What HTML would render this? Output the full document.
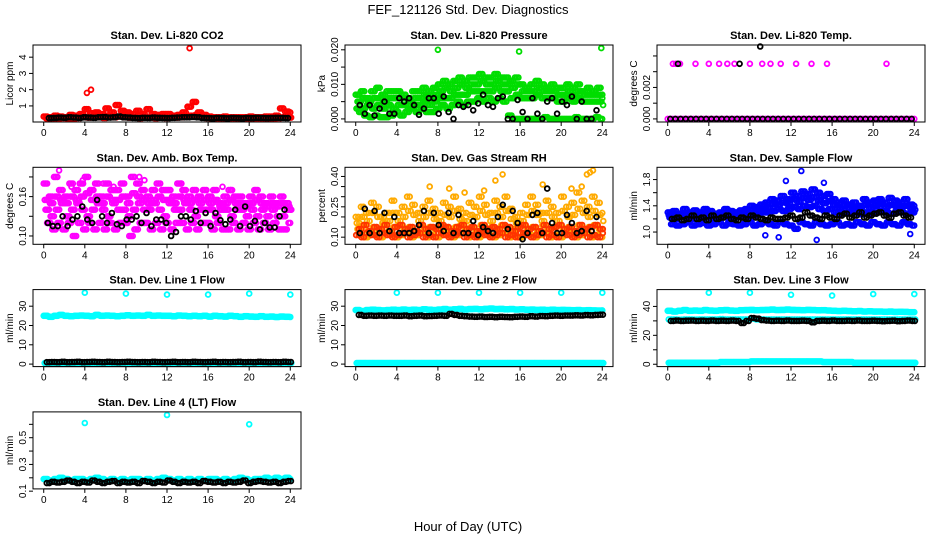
<!DOCTYPE html>
<html><head><meta charset="utf-8"><style>
body{margin:0;background:#fff}
svg{display:block;font-family:"Liberation Sans",sans-serif}
</style></head><body>
<svg id="c" width="936" height="540">
<text x="468" y="14" text-anchor="middle" font-size="13">FEF_121126  Std. Dev. Diagnostics</text>
<text x="468" y="531" text-anchor="middle" font-size="13">Hour of Day (UTC)</text>
</svg>
<script>
const xTicks=[0,4,8,12,16,20,24];
// CO2
const co2Hi=[0.35,0.3,0.4,0.35,0.3,0.45,0.4,0.5,0.8,0.55,0.6,0.5,0.85,0.6,1.05,0.7,0.6,0.5,0.7,0.5,0.8,0.5,0.45,0.5,0.5,0.4,0.45,0.6,0.95,1.25,0.6,0.45,0.35,0.3,0.3,0.35,0.3,0.3,0.3,0.3,0.35,0.3,0.3,0.35,0.35,0.4,0.85,0.65,0.6];
const co2Lo=[0.22,0.24,0.22,0.25,0.23,0.22,0.26,0.3,0.28,0.35,0.3,0.26,0.4,0.3,0.35,0.3,0.28,0.3,0.25,0.3,0.28,0.25,0.3,0.26,0.3,0.28,0.3,0.32,0.4,0.45,0.3,0.26,0.22,0.23,0.22,0.24,0.22,0.22,0.23,0.22,0.22,0.24,0.22,0.23,0.22,0.25,0.3,0.28,0.25];
const co2Blk=[0.25,0.26,0.28,0.27,0.3,0.28,0.26,0.3,0.28,0.27,0.3,0.32,0.28,0.3,0.35,0.3,0.28,0.26,0.25,0.27,0.26,0.28,0.27,0.26,0.25,0.27,0.28,0.3,0.3,0.32,0.3,0.26,0.25,0.24,0.26,0.25,0.24,0.26,0.25,0.24,0.26,0.25,0.27,0.26,0.25,0.26,0.27,0.26,0.25];
const co2OutT=[4.2,4.6,14.2], co2OutV=[1.8,2.0,4.55];
// Pressure
const prHi=[0.007,0.008,0.006,0.008,0.009,0.007,0.008,0.008,0.008,0.007,0.006,0.008,0.008,0.009,0.008,0.009,0.010,0.011,0.010,0.011,0.012,0.011,0.012,0.012,0.013,0.012,0.012,0.013,0.012,0.012,0.011,0.012,0.010,0.009,0.010,0.011,0.010,0.009,0.010,0.009,0.009,0.010,0.009,0.010,0.008,0.009,0.008,0.009,0.006];
const prMid=[0.005,0.006,0.005,0.006,0.006,0.005,0.006,0.006,0.006,0.006,0.005,0.006,0.006,0.007,0.006,0.007,0.008,0.009,0.008,0.009,0.010,0.009,0.010,0.010,0.011,0.010,0.010,0.011,0.010,0.010,0.009,0.010,0.008,0.008,0.008,0.009,0.008,0.008,0.008,0.007,0.007,0.008,0.007,0.008,0.007,0.007,0.007,0.007,0.005];
const prQ=[0.003,0.003,0.004,0.003,0.004,0.003,0.004,0.003,0.004,0.004,0.003,0.004,0.004,0.005,0.004,0.005,0.006,0.006,0.006,0.007,0.007,0.007,0.008,0.008,0.008,0.008,0.008,0.009,0.008,0.008,0.006,0.007,0.006,0.006,0.006,0.007,0.006,0.006,0.006,0.005,0.005,0.006,0.005,0.006,0.005,0.005,0.005,0.005,0.004];
const prLo=[0.002,0.001,0.0005,0.001,0.0005,0.0005,0.001,0.002,0.001,0.002,0.003,0.002,0.003,0.002,0.002,0.003,0.004,0.003,0.004,0.005,0.004,0.005,0.005,0.006,0.005,0.006,0.005,0.006,0.005,0.001,0,0,0,0,0,0,0.0005,0,0,0,0,0,0.0005,0,0,0,0.0005,0,0];
const prBlk=[0.004,0.0015,0.004,0.001,0.003,0.005,0.0015,0.0015,0.006,0.005,0.006,0.004,0.0012,0.003,0.006,0.006,0.0015,0.0065,0.002,0,0.004,0.0035,0.004,0.0025,0.0045,0.007,0.004,0.0035,0.006,0.0065,0,0,0.0055,0.002,0,0.006,0.0015,0,0.005,0.006,0.0015,0.005,0.004,0.0065,0,0.005,0,0,0.0025];
const prOutT=[8,15.9,23.9], prOutV=[0.020,0.0195,0.0205];
// Li-820 temp
const tmZero=[0,0,0,0,0,0,0,0,0,0,0,0,0,0,0,0,0,0,0,0,0,0,0,0,0,0,0,0,0,0,0,0,0,0,0,0,0,0,0,0,0,0,0,0,0,0,0,0,0];
const tmOutT=[0.5,0.8,1.2,2.7,4,5,5.8,6.5,8,9.2,10,11,12.5,14,15.5,21.3], tmOutV=[0.0035,0.0035,0.0035,0.0035,0.0035,0.0035,0.0035,0.0035,0.0035,0.0035,0.0035,0.0035,0.0035,0.0035,0.0035,0.0035];
const tmBlkT=[1,7,9], tmBlkV=[0.0035,0.0035,0.0046];
// Amb box temp
const abHi=[0.18,0.16,0.19,0.17,0.16,0.18,0.17,0.18,0.19,0.17,0.18,0.16,0.18,0.17,0.17,0.18,0.16,0.19,0.18,0.17,0.16,0.17,0.18,0.17,0.17,0.16,0.18,0.17,0.16,0.17,0.16,0.17,0.16,0.17,0.15,0.16,0.17,0.16,0.16,0.15,0.16,0.17,0.16,0.15,0.16,0.15,0.16,0.15,0.14];
const abQ=[0.155,0.15,0.16,0.155,0.15,0.16,0.155,0.16,0.165,0.155,0.16,0.15,0.16,0.155,0.155,0.16,0.15,0.165,0.16,0.155,0.15,0.155,0.16,0.155,0.155,0.15,0.16,0.155,0.15,0.155,0.15,0.155,0.15,0.155,0.145,0.15,0.155,0.15,0.15,0.145,0.15,0.155,0.15,0.145,0.15,0.145,0.15,0.145,0.14];
const abMid=[0.14,0.13,0.14,0.15,0.13,0.14,0.15,0.14,0.13,0.14,0.15,0.14,0.13,0.15,0.14,0.14,0.13,0.14,0.15,0.14,0.14,0.15,0.14,0.13,0.15,0.14,0.14,0.15,0.14,0.13,0.14,0.14,0.14,0.13,0.14,0.14,0.13,0.14,0.14,0.13,0.14,0.13,0.14,0.13,0.14,0.13,0.13,0.14,0.13];
const abLo=[0.12,0.11,0.12,0.11,0.12,0.10,0.12,0.11,0.12,0.11,0.12,0.11,0.12,0.11,0.12,0.12,0.10,0.11,0.12,0.12,0.11,0.12,0.11,0.12,0.11,0.12,0.12,0.11,0.12,0.11,0.12,0.12,0.11,0.12,0.11,0.11,0.12,0.11,0.12,0.11,0.12,0.11,0.12,0.11,0.12,0.11,0.11,0.12,0.12];
const abBlk=[0.12,0.115,0.115,0.13,0.115,0.125,0.13,0.145,0.125,0.12,0.155,0.13,0.12,0.135,0.118,0.115,0.125,0.125,0.13,0.12,0.135,0.115,0.125,0.125,0.12,0.1,0.106,0.13,0.13,0.125,0.138,0.12,0.135,0.115,0.135,0.124,0.118,0.125,0.14,0.115,0.145,0.115,0.123,0.11,0.12,0.113,0.113,0.13,0.14];
const abOutT=[1.5,3.8,5.8,6.8,9.3,9.8,2.7,13.4,17.4,18.2], abOutV=[0.2,0.185,0.18,0.175,0.19,0.185,0.175,0.18,0.175,0.17];
// Gas stream RH
const rhHi=[0.2,0.25,0.22,0.27,0.25,0.2,0.22,0.28,0.22,0.25,0.3,0.26,0.22,0.25,0.28,0.24,0.22,0.27,0.25,0.3,0.24,0.22,0.27,0.25,0.3,0.26,0.22,0.28,0.25,0.3,0.24,0.2,0.22,0.26,0.3,0.26,0.22,0.28,0.25,0.22,0.3,0.25,0.27,0.32,0.28,0.25,0.3,0.27,0.22];
const rhQ=[0.17,0.2,0.18,0.22,0.2,0.17,0.18,0.22,0.18,0.2,0.23,0.21,0.18,0.2,0.22,0.19,0.18,0.21,0.2,0.23,0.19,0.18,0.21,0.2,0.23,0.21,0.18,0.22,0.2,0.23,0.19,0.17,0.18,0.21,0.23,0.21,0.18,0.22,0.2,0.18,0.23,0.2,0.21,0.24,0.22,0.2,0.23,0.21,0.18];
const rhMid=[0.14,0.16,0.13,0.15,0.14,0.16,0.13,0.15,0.16,0.14,0.15,0.13,0.16,0.14,0.15,0.14,0.16,0.15,0.13,0.15,0.16,0.14,0.15,0.13,0.16,0.14,0.15,0.14,0.16,0.15,0.13,0.15,0.16,0.14,0.15,0.13,0.16,0.14,0.15,0.16,0.14,0.15,0.13,0.16,0.14,0.15,0.16,0.14,0.15];
const rhLo=[0.11,0.1,0.12,0.11,0.1,0.12,0.11,0.1,0.11,0.12,0.1,0.11,0.12,0.1,0.11,0.1,0.12,0.11,0.1,0.11,0.12,0.1,0.11,0.1,0.12,0.11,0.1,0.11,0.12,0.1,0.11,0.1,0.12,0.11,0.1,0.11,0.12,0.1,0.11,0.1,0.12,0.11,0.1,0.11,0.12,0.1,0.11,0.1,0.12];
const rhBlk=[0.12,0.24,0.12,0.23,0.12,0.22,0.13,0.2,0.12,0.12,0.12,0.13,0.16,0.23,0.12,0.22,0.16,0.13,0.22,0.12,0.21,0.12,0.12,0.18,0.11,0.15,0.13,0.12,0.2,0.26,0.14,0.23,0.17,0.09,0.12,0.21,0.22,0.12,0.34,0.17,0.12,0.12,0.21,0.17,0.12,0.13,0.23,0.13,0.2];
const rhOutT=[7.2,9.1,10.6,12.5,13.6,14.3,18.2,21,22,22.5,22.8,23.1], rhOutV=[0.35,0.34,0.32,0.33,0.38,0.41,0.36,0.34,0.35,0.41,0.42,0.43];
// Sample flow
const sfHi=[1.3,1.32,1.28,1.35,1.3,1.33,1.3,1.35,1.32,1.28,1.3,1.35,1.32,1.3,1.33,1.35,1.4,1.38,1.42,1.45,1.5,1.48,1.55,1.5,1.6,1.55,1.62,1.58,1.65,1.6,1.55,1.58,1.5,1.45,1.48,1.42,1.45,1.4,1.5,1.45,1.48,1.5,1.45,1.52,1.48,1.45,1.5,1.42,1.4];
const sfQ=[1.26,1.27,1.24,1.29,1.26,1.28,1.26,1.3,1.27,1.24,1.26,1.3,1.27,1.26,1.28,1.3,1.33,1.33,1.36,1.38,1.42,1.42,1.45,1.43,1.5,1.46,1.52,1.49,1.53,1.48,1.44,1.47,1.41,1.37,1.4,1.36,1.38,1.34,1.41,1.37,1.4,1.42,1.38,1.41,1.4,1.38,1.4,1.36,1.34];
const sfMid=[1.22,1.2,1.25,1.22,1.2,1.24,1.22,1.25,1.2,1.22,1.25,1.22,1.2,1.25,1.22,1.24,1.25,1.28,1.3,1.3,1.32,1.35,1.32,1.35,1.38,1.35,1.4,1.38,1.4,1.35,1.32,1.35,1.3,1.28,1.3,1.28,1.3,1.27,1.3,1.28,1.3,1.32,1.3,1.28,1.32,1.3,1.28,1.3,1.26];
const sfLo=[1.12,1.1,1.12,1.15,1.1,1.12,1.14,1.1,1.12,1.15,1.1,1.13,1.12,1.1,1.12,1.15,1.1,1.12,1.15,1.12,1.1,1.15,1.12,1.1,1.05,1.15,1.12,1.1,1.15,1.12,1.1,1.12,1.15,1.1,1.12,1.1,1.15,1.12,1.1,1.15,1.12,1.1,1.15,1.12,1.1,1.15,1.12,1.1,1.1];
const sfBlk=[1.2,1.22,1.18,1.2,1.25,1.2,1.22,1.18,1.25,1.2,1.22,1.25,1.2,1.18,1.22,1.2,1.25,1.22,1.2,1.18,1.22,1.2,1.2,1.22,1.25,1.2,1.22,1.3,1.25,1.22,1.2,1.25,1.22,1.2,1.25,1.28,1.22,1.25,1.3,1.22,1.25,1.28,1.3,1.25,1.22,1.28,1.3,1.25,1.22];
const sfOutT=[9.5,13,15.2,10.8,14.5,23.6,11.5], sfOutV=[0.95,1.93,1.75,0.92,0.88,0.97,1.78];
// Line 1
const l1Cy=[25,24.5,25,25.5,25,24.8,25,25.2,25,24.8,25.5,25,25.2,25,24.8,25,25.3,25,25.2,25,25.5,25,25.2,25,25,24.8,25.2,25,24.8,25,24.8,25,24.6,25,24.8,24.6,25,24.8,24.5,24.8,24.6,24.5,24.8,24.5,24.6,24.4,24.6,24.5,24.4];
const l1Blk=[1,1.1,1,1.2,1,1.1,1.2,1,1.1,1.2,1.1,1,1.2,1.1,1,1.1,1.2,1.1,1,1.1,1,1.2,1.1,1,1.1,1.2,1,1.1,1,1.2,1.1,1,1.1,1.2,1,1.1,1,1.1,1.2,1,1.1,1,1.2,1.1,1,1.1,1,1.2,1.1];
const l1Low=[0.5,0.5,0.5,0.5,0.5,0.5,0.5,0.5,0.5,0.5,0.5,0.5,0.5,0.5,0.5,0.5,0.5,0.5,0.5,0.5,0.5,0.5,0.5,0.5,0.5,0.5,0.5,0.5,0.5,0.5,0.5,0.5,0.5,0.5,0.5,0.5,0.5,0.5,0.5,0.5,0.5,0.5,0.5,0.5,0.5,0.5,0.5,0.5,0.5];
const l1OutT=[4,8,12,16,20,24], l1OutV=[37,36.5,36,36,36.5,36];
// Line 2
const l2Cy=[28,27.5,28,28.2,28,27.8,28,28.2,28,28.3,28,28.2,28,28.4,28.2,28,28.3,28.5,28.2,28.4,28.6,28.3,28.5,28.6,28.4,28.6,28.8,28.5,28.6,28.4,28.5,28.3,28.4,28.2,28.3,28.1,28.2,28,28.2,28,28.1,28,27.9,28,27.8,27.9,27.8,27.7,27.8];
const l2Blk=[25.5,25,25.2,25,25.1,25,25.2,25,25,25.1,24.8,25,25.1,24.8,24.9,25,25.2,25,26,25.5,25,24.8,24.6,24.5,24.6,24.4,24.5,24.3,24.5,24.4,24.3,24.5,24.6,24.5,24.8,24.6,24.9,24.8,25,25.1,25,25.2,25.1,25.3,25.2,25.4,25.3,25.5,25.6];
const l2Low=[0.5,0.5,0.5,0.5,0.5,0.5,0.5,0.5,0.5,0.5,0.5,0.5,0.5,0.5,0.5,0.5,0.5,0.5,0.5,0.5,0.5,0.5,0.5,0.5,0.5,0.5,0.5,0.5,0.5,0.5,0.5,0.5,0.5,0.5,0.5,0.5,0.5,0.5,0.5,0.5,0.5,0.5,0.5,0.5,0.5,0.5,0.5,0.5,0.5];
const l2OutT=[4,8,12,16,20,24], l2OutV=[37,37,37,37,37,37];
// Line 3
const l3Cy=[37,36.5,37,37.5,37,37.2,37,37.5,37.2,37,37.3,37.5,37.2,37,37.4,37.5,37.6,37.4,37.5,37.6,37.8,37.5,37.6,37.8,37.6,37.5,37.4,37.6,37.5,37.3,37.4,37.2,37,36.8,37,36.8,36.6,36.8,36.5,36.6,36.4,36.5,36.3,36.4,36.2,36.3,36.2,36,36];
const l3Cy2=[31,31,30.8,31,31,30.9,31,31,31,31,31.2,31,31,31,31,31,31.5,31,31,31,31,31,31,31,31,31,31,31,31,31,31,31,31,31,31,31,31,31,31,31,31,31,31,31,31,31,31,31,31];
const l3Blk=[30,30.2,30,30.1,30.2,30,30.1,30,30.2,30,30.1,30,30.2,30,28.5,30,32,31.5,30.5,30.2,30,30.1,30,30.2,30,30,30.1,30,29,30,30.1,30,30.2,30,30,30.1,30,30.2,30,30,30.1,30,29.8,30,30.1,29.8,30,30.2,30];
const l3Low=[1,1,1,1,1,1,1,1,1,1,1.5,1.5,1.5,1.5,1.5,1.5,2,2,2,2,2,2,2,2,2,2,2,2,2,2,1.5,1.5,1.5,1.5,1.5,1.5,1,1,1,1,1,1,1,1,1,1,1,1,1];
const l3OutT=[4,8,12,16,20,24], l3OutV=[49.5,49.5,48,47.5,48.5,48.5];
// Line 4
const l4Cy=[0.19,0.18,0.19,0.2,0.19,0.18,0.19,0.19,0.18,0.19,0.2,0.19,0.18,0.19,0.18,0.19,0.18,0.19,0.19,0.18,0.19,0.18,0.19,0.2,0.19,0.18,0.19,0.18,0.19,0.18,0.19,0.18,0.19,0.19,0.18,0.19,0.18,0.19,0.2,0.19,0.18,0.19,0.19,0.2,0.19,0.2,0.19,0.2,0.19];
const l4Blk=[0.16,0.17,0.165,0.17,0.18,0.17,0.16,0.17,0.165,0.18,0.17,0.16,0.17,0.175,0.16,0.17,0.165,0.17,0.16,0.175,0.17,0.16,0.17,0.165,0.18,0.17,0.16,0.17,0.165,0.17,0.16,0.175,0.17,0.165,0.17,0.16,0.17,0.165,0.17,0.18,0.16,0.17,0.175,0.17,0.165,0.17,0.16,0.17,0.175];
const l4OutT=[4,12,20], l4OutV=[0.61,0.67,0.6];

const RED='#ff0000',GRN='#00dd00',MAG='#ff00ff',ORG='#ffaa00',ORR='#ff3300',BLU='#0000ff',CYA='#00ffff',BLK='#000000';
function reg(v,c,t0,dt,rep){return {vals:v,color:c,t0:t0,dt:dt,rep:rep||1};}
function pts(t,v,c){return {times:t,vals:v,color:c,rep:1};}
const panels=[
 {id:'co2',c:0,r:0,title:'Stan. Dev. Li-820 CO2',ylab:'Licor ppm',ylim:[0.2,4.56],ticks:[1,2,3,4],tl:['1','2','3','4'],
  s:[reg(co2Hi,RED,0,0.5,3),reg(co2Lo,RED,0.25,0.5,3),pts(co2OutT,co2OutV,RED),reg(co2Blk,BLK,0.5,0.48,2)]},
 {id:'pressure',c:1,r:0,title:'Stan. Dev. Li-820 Pressure',ylab:'kPa',ylim:[0,0.0205],ticks:[0,0.005,0.01,0.015,0.02],tl:['0.000','','0.010','','0.020'],
  s:[reg(prHi,GRN,0,0.5,3),reg(prMid,GRN,0.17,0.5,3),reg(prQ,GRN,0.08,0.5,3),reg(prLo,GRN,0.33,0.5,3),pts(prOutT,prOutV,GRN),reg(prBlk,BLK,0.4,0.48)]},
 {id:'li820-temp',c:2,r:0,title:'Stan. Dev. Li-820 Temp.',ylab:'degrees C',ylim:[0,0.0045],ticks:[0,0.001,0.002,0.003,0.004],tl:['0.000','','0.002','',''],
  s:[reg(tmZero,MAG,0,0.5,2),pts(tmOutT,tmOutV,MAG),reg(tmZero,BLK,0.25,0.5),pts(tmBlkT,tmBlkV,BLK)]},
 {id:'amb-box-temp',c:0,r:1,title:'Stan. Dev. Amb. Box Temp.',ylab:'degrees C',ylim:[0.092,0.2],ticks:[0.1,0.13,0.16,0.19],tl:['0.10','','0.16',''],
  s:[reg(abHi,MAG,0,0.5,3),reg(abQ,MAG,0.1,0.5,3),reg(abMid,MAG,0.17,0.5,3),reg(abLo,MAG,0.33,0.5,3),pts(abOutT,abOutV,MAG),reg(abBlk,BLK,0.4,0.48)]},
 {id:'gas-stream-rh',c:1,r:1,title:'Stan. Dev. Gas Stream RH',ylab:'percent',ylim:[0.08,0.43],ticks:[0.1,0.15,0.2,0.25,0.3,0.35,0.4],tl:['0.10','','','0.25','','','0.40'],
  s:[reg(rhHi,ORG,0,0.5,2),reg(rhQ,ORG,0.1,0.5,2),reg(rhMid,ORG,0.17,0.5,3),reg(rhLo,ORG,0.33,0.5,3),reg(rhMid,ORR,0.3,0.5,2),reg(rhLo,ORR,0.05,0.5,2),pts(rhOutT,rhOutV,ORG),reg(rhBlk,BLK,0.4,0.48)]},
 {id:'sample-flow',c:2,r:1,title:'Stan. Dev. Sample Flow',ylab:'ml/min',ylim:[0.86,1.94],ticks:[1,1.2,1.4,1.6,1.8],tl:['1.0','','1.4','','1.8'],
  s:[reg(sfHi,BLU,0,0.5,3),reg(sfQ,BLU,0.1,0.5,3),reg(sfMid,BLU,0.17,0.5,3),reg(sfLo,BLU,0.33,0.5,3),pts(sfOutT,sfOutV,BLU),reg(sfBlk,BLK,0.4,0.48,2)]},
 {id:'line1-flow',c:0,r:2,title:'Stan. Dev. Line 1 Flow',ylab:'ml/min',ylim:[0.3,37],ticks:[0,10,20,30],tl:['0','10','20','30'],
  s:[reg(l1Cy,CYA,0,0.5,4),reg(l1Low,CYA,0.1,0.5,3),pts(l1OutT,l1OutV,CYA),reg(l1Blk,BLK,0.3,0.49,2)]},
 {id:'line2-flow',c:1,r:2,title:'Stan. Dev. Line 2 Flow',ylab:'ml/min',ylim:[0.3,37],ticks:[0,10,20,30],tl:['0','10','20','30'],
  s:[reg(l2Cy,CYA,0,0.5,4),reg(l2Low,CYA,0.1,0.5,4),pts(l2OutT,l2OutV,CYA),reg(l2Blk,BLK,0.3,0.49,2)]},
 {id:'line3-flow',c:2,r:2,title:'Stan. Dev. Line 3 Flow',ylab:'ml/min',ylim:[0.5,49.5],ticks:[0,10,20,30,40],tl:['0','','20','','40'],
  s:[reg(l3Cy,CYA,0,0.5,4),reg(l3Cy2,CYA,0.1,0.5,2),reg(l3Low,CYA,0.1,0.5,4),pts(l3OutT,l3OutV,CYA),reg(l3Blk,BLK,0.3,0.49,2)]},
 {id:'line4-flow',c:0,r:3,title:'Stan. Dev. Line 4 (LT) Flow',ylab:'ml/min',ylim:[0.14,0.67],ticks:[0.1,0.2,0.3,0.4,0.5,0.6],tl:['0.1','','0.3','','0.5',''],
  s:[reg(l4Cy,CYA,0,0.5,4),pts(l4OutT,l4OutV,CYA),reg(l4Blk,BLK,0.3,0.49,2)]}
];
const NS='http://www.w3.org/2000/svg', svg=document.getElementById('c');
function mk(tag,at,parent){const e=document.createElementNS(NS,tag);for(const k in at)e.setAttribute(k,at[k]);(parent||svg).appendChild(e);return e;}
const BW=268,BH=77;
panels.forEach(p=>{
 const L=33+312*p.c, T=45+122.3*p.r, R=L+BW, B=T+BH;
 const g=mk('g',{});
 
 
 const xs=v=>L+BW*(0.04+0.92*v/24);
 const span=p.ylim[1]-p.ylim[0];
 const ys=v=>B-BH*(0.04+0.92*(v-p.ylim[0])/span);
 const tt=mk('text',{x:(L+R)/2,y:T-6,'text-anchor':'middle','font-size':'11','font-weight':'bold'},g);tt.textContent=p.title;
 
 
 const yl=mk('text',{transform:`translate(${L-20},${(T+B)/2}) rotate(-90)`,'text-anchor':'middle','font-size':'10'},g);yl.textContent=p.ylab;
 
 
 const pg=mk('g',{},g);
 
 
 p.s.forEach(s=>{
  for(let k=0;k<s.rep;k++){
   s.vals.forEach((v,i)=>{
    const t=s.times?s.times[i]:s.t0+i*s.dt+k*s.dt/s.rep; if(t>24.1)return;
    const c=mk('circle',{cx:xs(t).toFixed(1),cy:ys(v).toFixed(1),r:2.4,fill:'none',stroke:s.color,'stroke-width':1.8},pg);
    
    
   });
  }
 });
 const box=mk('rect',{x:L,y:T,width:BW,height:BH,fill:'none',stroke:'#000','stroke-width':1},g);
 
 
 const xa=mk('g',{},g);
 
 
 mk('line',{x1:xs(0),x2:xs(24),y1:B,y2:B,stroke:'#000'},xa);
 xTicks.forEach(v=>{mk('line',{x1:xs(v),x2:xs(v),y1:B,y2:B+4,stroke:'#000'},xa);
  const t=mk('text',{x:xs(v),y:B+14,'text-anchor':'middle','font-size':'10'},xa);t.textContent=v;});
 const ya=mk('g',{},g);
 
 
 p.ticks.forEach((v,i)=>{mk('line',{x1:L-4,x2:L,y1:ys(v),y2:ys(v),stroke:'#000'},ya);
  if(p.tl[i]){const t=mk('text',{transform:`translate(${L-7},${ys(v)}) rotate(-90)`,'text-anchor':'middle','font-size':'10'},ya);t.textContent=p.tl[i];}});
});
</script>
</body></html>
